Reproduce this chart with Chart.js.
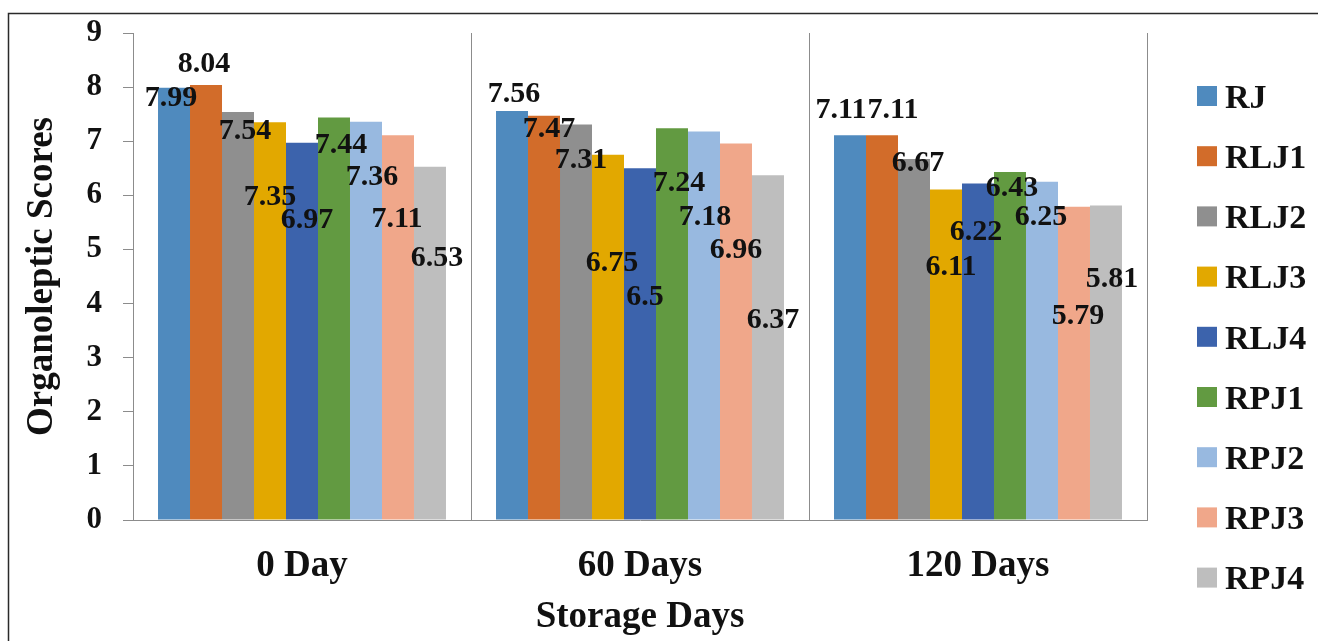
<!DOCTYPE html>
<html>
<head>
<meta charset="utf-8">
<script src="https://cdn.jsdelivr.net/npm/chart.js@4.4.1/dist/chart.umd.min.js"></script>
<style>
  html, body { margin: 0; padding: 0; background: #fff; }
  #wrap { width: 1318px; height: 641px; }
</style>
</head>
<body>
<div id="wrap"><canvas id="chart" width="1318" height="641"></canvas></div>
<script>
// Storage period categories
const categories = ['0 Day', '60 Days', '120 Days'];

// Organoleptic scores per juice formulation
const RJ   = [7.99, 7.56, 7.11];
const RLJ1 = [8.04, 7.47, 7.11];
const RLJ2 = [7.54, 7.31, 6.67];
const RLJ3 = [7.35, 6.75, 6.11];
const RLJ4 = [6.97, 6.5, 6.22];
const RPJ1 = [7.44, 7.24, 6.43];
const RPJ2 = [7.36, 7.18, 6.25];
const RPJ3 = [7.11, 6.96, 5.79];
const RPJ4 = [6.53, 6.37, 5.81];

const seriesNames  = ['RJ', 'RLJ1', 'RLJ2', 'RLJ3', 'RLJ4', 'RPJ1', 'RPJ2', 'RPJ3', 'RPJ4'];
const seriesValues = [RJ, RLJ1, RLJ2, RLJ3, RLJ4, RPJ1, RPJ2, RPJ3, RPJ4];
const seriesColors = ['#4f8abe', '#d26c2a', '#8f8f8f', '#e2a800', '#3c63ac',
                      '#629a41', '#98b9e0', '#f0a78a', '#bebebe'];

// Y axis range and step
const yMin = 0, yMax = 9, yStep = 1;

// Value label nudges [dx, dy] in px from each bar's top centre, per series then per category
const labelOffsets = [
  [[-3, 11], [2, -17], [-9, -25]],
  [[-2, -21], [5, 13], [11, -25]],
  [[7, 19], [5, 36], [4, 4]],
  [[0, 75], [4, 108], [5, 78]],
  [[5, 77], [5, 129], [-2, 49]],
  [[7, 28], [7, 55], [2, 16]],
  [[6, 56], [1, 86], [-1, 35]],
  [[-1, 84], [0, 107], [4, 110]],
  [[7, 92], [5, 145], [6, 74]]
];

const SERIF = "'Liberation Serif', 'Times New Roman', serif";

const datasets = seriesNames.map((name, i) => ({
  label: name,
  data: seriesValues[i],
  backgroundColor: seriesColors[i],
  borderWidth: 0,
  categoryPercentage: 0.852,
  barPercentage: 1.0
}));

// Outer frame + white background
const framePlugin = {
  id: 'frame',
  beforeDraw(chart) {
    const ctx = chart.ctx;
    ctx.save();
    ctx.fillStyle = '#ffffff';
    ctx.fillRect(0, 0, chart.width, chart.height);
    ctx.strokeStyle = '#2a2a2a';
    ctx.lineWidth = 1.5;
    ctx.beginPath();
    ctx.moveTo(chart.width, 13.5);
    ctx.lineTo(8.5, 13.5);
    ctx.lineTo(8.5, chart.height);
    ctx.stroke();
    ctx.restore();
  }
};

// Value labels drawn from each bar element
const valueLabelPlugin = {
  id: 'valueLabels',
  afterDatasetsDraw(chart) {
    const ctx = chart.ctx;
    ctx.save();
    ctx.font = 'bold 30px ' + SERIF;
    ctx.fillStyle = '#111';
    ctx.textAlign = 'center';
    ctx.textBaseline = 'middle';
    chart.data.datasets.forEach((ds, si) => {
      const meta = chart.getDatasetMeta(si);
      meta.data.forEach((bar, ci) => {
        const off = labelOffsets[si][ci];
        ctx.fillText(String(ds.data[ci]), bar.x + off[0], bar.y + off[1]);
      });
    });
    ctx.restore();
  }
};

// Vertical legend on the right side
const sideLegendPlugin = {
  id: 'sideLegend',
  afterDraw(chart) {
    const ctx = chart.ctx;
    const area = chart.chartArea;
    const boxX = area.right + 50;
    const firstY = 96;
    const step = 60.2;
    const box = 20;
    ctx.save();
    ctx.font = 'bold 34px ' + SERIF;
    ctx.textAlign = 'left';
    ctx.textBaseline = 'middle';
    chart.data.datasets.forEach((ds, i) => {
      const cy = firstY + i * step;
      ctx.fillStyle = ds.backgroundColor;
      ctx.fillRect(boxX, cy - box / 2, box, box);
      ctx.fillStyle = '#111';
      ctx.fillText(ds.label, boxX + 28, cy + 3);
    });
    ctx.restore();
  }
};

new Chart(document.getElementById('chart'), {
  type: 'bar',
  data: { labels: categories, datasets },
  plugins: [framePlugin, valueLabelPlugin, sideLegendPlugin],
  options: {
    responsive: false,
    animation: false,
    devicePixelRatio: 1,
    layout: { padding: { left: 8, right: 171, top: 33, bottom: 0 } },
    plugins: {
      legend: { display: false },
      tooltip: { enabled: false }
    },
    scales: {
      x: {
        offset: true,
        grid: {
          display: true,
          offset: true,
          drawOnChartArea: true,
          drawTicks: false,
          color: '#8c8c8c',
          lineWidth: 1
        },
        border: { display: true, color: '#8c8c8c', width: 1 },
        ticks: {
          color: '#111',
          padding: 24,
          font: { family: SERIF, size: 37, weight: 'bold' }
        },
        title: {
          display: true,
          text: 'Storage Days',
          color: '#111',
          padding: { top: 9, bottom: 1 },
          font: { family: SERIF, size: 37, weight: 'bold' }
        },
        afterFit(scale) { scale.height = 121; }
      },
      y: {
        min: yMin,
        max: yMax,
        grid: {
          display: true,
          drawOnChartArea: false,
          drawTicks: true,
          tickLength: 10,
          color: '#8c8c8c',
          lineWidth: 1
        },
        border: { display: true, color: '#8c8c8c', width: 1 },
        ticks: {
          stepSize: yStep,
          color: '#111',
          padding: 21,
          font: { family: SERIF, size: 31, weight: 'bold', lineHeight: 0.7 }
        },
        title: {
          display: true,
          text: 'Organoleptic Scores',
          color: '#111',
          padding: { top: 12, bottom: 0 },
          font: { family: SERIF, size: 37, weight: 'bold' }
        },
        afterFit(scale) { scale.width = 125; }
      }
    }
  }
});
</script>
</body>
</html>
